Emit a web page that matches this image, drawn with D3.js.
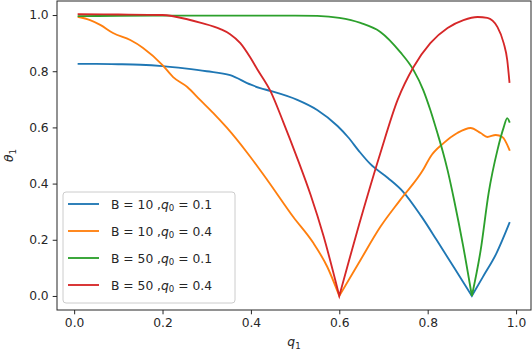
<!DOCTYPE html>
<html>
<head>
<meta charset="utf-8">
<script src="https://cdn.jsdelivr.net/npm/d3@7"></script>
<style>
  body { margin: 0; background: #fff; }
  text { font-family: "DejaVu Sans", sans-serif; fill: #262626; }
</style>
</head>
<body>
<div id="chart"></div>
<script>
// series (q1 on x, theta1 on y)
const blueX = [0.01,0.05,0.10,0.15,0.20,0.25,0.30,0.353,0.40,0.421,0.444,0.505,0.55,0.596,0.62,0.645,0.67,0.71,0.745,0.785,0.82,0.86,0.90,0.925,0.955,0.985];
const blueY = [0.826,0.826,0.825,0.823,0.818,0.81,0.80,0.786,0.752,0.740,0.730,0.698,0.662,0.605,0.565,0.515,0.47,0.42,0.37,0.285,0.2,0.10,0.0,0.068,0.15,0.26];

const orangeX = [0.01,0.036,0.059,0.088,0.127,0.156,0.20,0.224,0.256,0.285,0.315,0.346,0.392,0.437,0.496,0.541,0.573,0.60,0.648,0.693,0.738,0.79,0.806,0.836,0.867,0.897,0.92,0.935,0.954,0.969,0.985];
const orangeY = [0.993,0.982,0.965,0.936,0.911,0.883,0.822,0.779,0.744,0.698,0.651,0.598,0.509,0.413,0.281,0.189,0.103,0.0,0.128,0.246,0.342,0.45,0.495,0.544,0.58,0.598,0.58,0.566,0.573,0.566,0.52];

const greenX = [0.01,0.1,0.2,0.3,0.4,0.5,0.55,0.60,0.648,0.693,0.738,0.768,0.79,0.806,0.822,0.834,0.845,0.86,0.88,0.90,0.92,0.938,0.958,0.972,0.98,0.985];
const greenY = [0.996,0.997,0.998,0.998,0.998,0.998,0.997,0.99,0.972,0.94,0.868,0.804,0.733,0.662,0.58,0.515,0.448,0.34,0.18,0.0,0.164,0.367,0.52,0.60,0.633,0.62];

const redX = [0.01,0.1,0.2,0.256,0.285,0.331,0.353,0.376,0.399,0.414,0.444,0.473,0.505,0.535,0.564,0.60,0.62,0.645,0.693,0.732,0.768,0.806,0.845,0.881,0.913,0.935,0.958,0.972,0.98,0.985];
const redY = [1.003,1.002,1.0,0.985,0.973,0.95,0.932,0.90,0.848,0.808,0.73,0.62,0.49,0.36,0.215,0.0,0.115,0.255,0.509,0.698,0.815,0.9,0.954,0.982,0.993,0.99,0.957,0.9,0.84,0.762];

const labelB = ["10", "10", "50", "50"];
const labelQ0 = ["0.1", "0.4", "0.1", "0.4"];
const colors = ["#1f77b4", "#ff7f0e", "#2ca02c", "#d62728"];
const xTicks = [0.0, 0.2, 0.4, 0.6, 0.8, 1.0];
const yTicks = [0.0, 0.2, 0.4, 0.6, 0.8, 1.0];

const series = [
  [blueX, blueY], [orangeX, orangeY], [greenX, greenY], [redX, redY]
].map(([xs, ys]) => xs.map((x, i) => [x, ys[i]]));

const W = 532, H = 354;
const margin = { left: 57, right: 1, top: 1, bottom: 44 };

const svg = d3.select("#chart").append("svg")
  .attr("width", W).attr("height", H);

const x = d3.scaleLinear().domain([-0.0388, 1.0338]).range([margin.left, W - margin.right]);
const y = d3.scaleLinear().domain([-0.05, 1.05]).range([H - margin.bottom, margin.top]);

const line = d3.line().x(d => x(d[0])).y(d => y(d[1])).curve(d3.curveMonotoneX);

// smooth each piece, but keep the sharp V where a curve touches zero
const pathFor = pts => {
  let pieces = [], cur = [];
  pts.forEach((p, i) => {
    cur.push(p);
    if (p[1] === 0 && i > 0 && i < pts.length - 1) { pieces.push(cur); cur = [p]; }
  });
  pieces.push(cur);
  return pieces.map((pc, i) => {
    const d = line(pc);
    return i === 0 ? d : "L" + d.slice(1);
  }).join("");
};

svg.append("g").selectAll("path")
  .data(series)
  .enter()
  .append("path")
  .attr("d", pathFor)
  .attr("fill", "none")
  .attr("stroke", (d, i) => colors[i])
  .attr("stroke-width", 1.85)
  .attr("stroke-linejoin", "miter")
  .attr("stroke-linecap", "square");

// axes
const xAxis = svg.append("g")
  .attr("transform", `translate(0,${H - margin.bottom})`)
  .call(d3.axisBottom(x).tickValues(xTicks).tickFormat(d3.format(".1f")).tickSize(4.3).tickPadding(4));
const yAxis = svg.append("g")
  .attr("transform", `translate(${margin.left},0)`)
  .call(d3.axisLeft(y).tickValues(yTicks).tickFormat(d3.format(".1f")).tickSize(4.3).tickPadding(4));

[xAxis, yAxis].forEach(g => {
  g.select(".domain").remove();
  g.selectAll("line").attr("stroke", "#262626").attr("stroke-width", 1);
  g.selectAll("text").style("font-size", "12.3px").style("font-family", "DejaVu Sans").attr("fill", "#262626");
});

// frame
svg.append("rect")
  .attr("x", margin.left).attr("y", margin.top)
  .attr("width", W - margin.left - margin.right)
  .attr("height", H - margin.top - margin.bottom)
  .attr("fill", "none").attr("stroke", "#262626").attr("stroke-width", 1);

// axis labels
const xl = svg.append("text")
  .attr("x", (margin.left + W - margin.right) / 2)
  .attr("y", 346)
  .attr("text-anchor", "middle")
  .style("font-size", "12.3px");
xl.append("tspan").attr("font-style", "italic").text("q");
xl.append("tspan").attr("font-size", "8.6px").attr("dy", 2.5).text("1");

const yl = svg.append("text")
  .attr("transform", `translate(13,${(margin.top + H - margin.bottom) / 2}) rotate(-90)`)
  .attr("text-anchor", "middle")
  .style("font-size", "12.3px");
yl.append("tspan").attr("font-style", "italic").text("θ");
yl.append("tspan").attr("font-size", "8.6px").attr("dy", 2.5).text("1");

// legend
const legend = svg.append("g").attr("transform", "translate(63,192)");
legend.append("rect")
  .attr("width", 172).attr("height", 111)
  .attr("rx", 3)
  .attr("fill", "#fff").attr("fill-opacity", 0.8)
  .attr("stroke", "#cccccc").attr("stroke-width", 1);

const rows = legend.selectAll("g.row")
  .data(colors)
  .enter()
  .append("g")
  .attr("class", "row")
  .attr("transform", (d, i) => `translate(0,${12 + i * 27})`);

rows.append("line")
  .attr("x1", 5).attr("x2", 36)
  .attr("stroke", d => d)
  .attr("stroke-width", 1.85);

const lt = rows.append("text")
  .attr("x", 48).attr("y", 4.5)
  .style("font-size", "12.3px");
lt.append("tspan").text((d, i) => `B = ${labelB[i]} ,`);
lt.append("tspan").attr("font-style", "italic").text("q");
lt.append("tspan").attr("font-size", "8.6px").attr("dy", 2.5).text("0");
lt.append("tspan").attr("dy", -2.5).text((d, i) => ` = ${labelQ0[i]}`);
</script>
</body>
</html>
